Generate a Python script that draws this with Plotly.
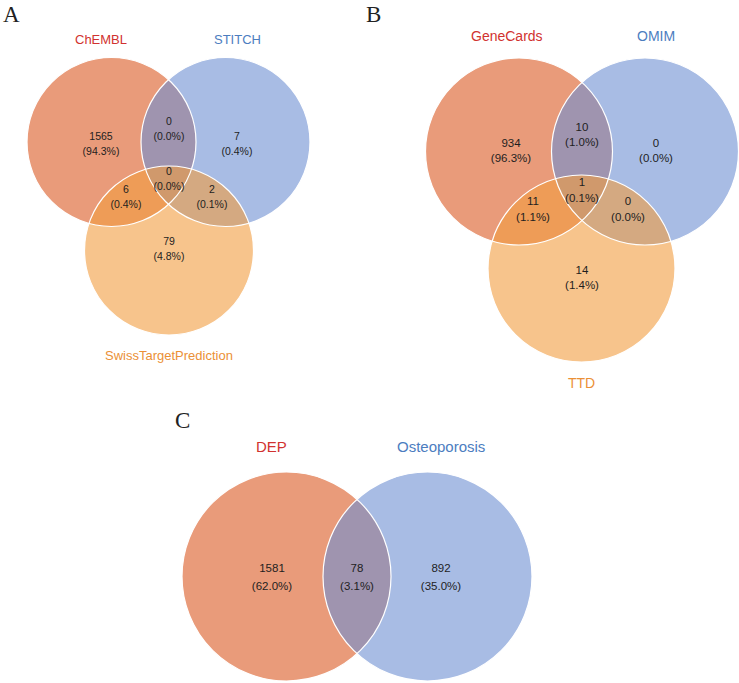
import plotly.graph_objects as go

# region keys: "1" = only set 1, "12" = sets 1 and 2 only, "123" = all three ...
a_sets = ["ChEMBL", "STITCH", "SwissTargetPrediction"]
a_regions = ["1", "2", "12", "123", "13", "23", "3"]
a_counts = [1565, 7, 0, 0, 6, 2, 79]

b_sets = ["GeneCards", "OMIM", "TTD"]
b_regions = ["1", "2", "12", "123", "13", "23", "3"]
b_counts = [934, 0, 10, 1, 11, 0, 14]

c_sets = ["DEP", "Osteoporosis"]
c_regions = ["1", "12", "2"]
c_counts = [1581, 78, 892]

# drawing layout (pixel space of the 739x683 page)
fills = ["rgb(218,88,33)", "rgb(110,143,210)", "rgb(242,157,63)"]
name_colors = ["#D1322F", "#4C7DBF", "#EB9036"]
fill_alpha = 0.6

panels = [
    dict(letter="A", letter_xy=(11, 14),
         sets=a_sets, regions=a_regions, counts=a_counts,
         circles=[(111.5, 142, 84.5), (225.5, 142, 84.5), (169, 250.5, 84.5)],
         name_xy=[(101, 39), (237, 39), (169, 355)],
         name_size=13, num_size=10.5, gap=7.5,
         label_xy={"1": (101, 144.5), "2": (237, 144.5), "12": (169, 130),
                   "123": (169, 180), "13": (126, 197.5), "23": (212, 197.5),
                   "3": (169, 250)}),
    dict(letter="B", letter_xy=(373, 14),
         sets=b_sets, regions=b_regions, counts=b_counts,
         circles=[(519, 151.5, 93.5), (645, 151.5, 93.5), (581.5, 268.5, 93.5)],
         name_xy=[(507, 36), (656, 36), (581, 383)],
         name_size=14, num_size=11.5, gap=7.8,
         label_xy={"1": (511, 151.5), "2": (656, 151.5), "12": (582, 135.5),
                   "123": (582, 191), "13": (533, 210), "23": (628, 210),
                   "3": (582, 278.5)}),
    dict(letter="C", letter_xy=(182, 420),
         sets=c_sets, regions=c_regions, counts=c_counts,
         circles=[(286.5, 576.5, 104.5), (427.5, 576.5, 104.5)],
         name_xy=[(271, 446), (441, 446)],
         name_size=15, num_size=11.5, gap=9,
         label_xy={"1": (272, 578), "12": (357, 578), "2": (441, 578)}),
]

fig = go.Figure()
shapes = []
annotations = []

for p in panels:
    # translucent fills first, then white outlines on top
    for i, (cx, cy, r) in enumerate(p["circles"]):
        shapes.append(dict(type="circle", xref="x", yref="y",
                           x0=cx - r, x1=cx + r, y0=cy - r, y1=cy + r,
                           fillcolor=fills[i], opacity=fill_alpha,
                           line=dict(width=0), layer="below"))
    for cx, cy, r in p["circles"]:
        shapes.append(dict(type="circle", xref="x", yref="y",
                           x0=cx - r, x1=cx + r, y0=cy - r, y1=cy + r,
                           fillcolor="rgba(0,0,0,0)",
                           line=dict(color="white", width=1.2), layer="below"))

    total = sum(p["counts"])
    xs, ys, texts = [], [], []
    for reg, n in zip(p["regions"], p["counts"]):
        x, y = p["label_xy"][reg]
        xs += [x, x]
        ys += [y - p["gap"], y + p["gap"]]
        texts += [str(n), "(%.1f%%)" % (100.0 * n / total)]
    fig.add_trace(go.Scatter(x=xs, y=ys, text=texts, mode="text",
                             textfont=dict(family="Liberation Sans", size=p["num_size"], color="#1e1e1e"),
                             hoverinfo="skip", showlegend=False))

    for i, name in enumerate(p["sets"]):
        x, y = p["name_xy"][i]
        annotations.append(dict(x=x, y=y, xref="x", yref="y", text=name, showarrow=False,
                                font=dict(family="Liberation Sans", size=p["name_size"], color=name_colors[i])))
    lx, ly = p["letter_xy"]
    annotations.append(dict(x=lx, y=ly, xref="x", yref="y", text=p["letter"], showarrow=False,
                            font=dict(family="Liberation Serif", size=23, color="#222222")))

fig.update_layout(
    width=739, height=683,
    margin=dict(l=0, r=0, t=0, b=0),
    paper_bgcolor="white", plot_bgcolor="white",
    shapes=shapes, annotations=annotations,
    xaxis=dict(range=[0, 739], visible=False, fixedrange=True),
    yaxis=dict(range=[683, 0], visible=False, fixedrange=True),
    showlegend=False,
)

# drop the default 8px body margin so the figure fills the window
fig.write_html("out.html", config={"displayModeBar": False},
               post_script="document.body.style.margin='0px';")
